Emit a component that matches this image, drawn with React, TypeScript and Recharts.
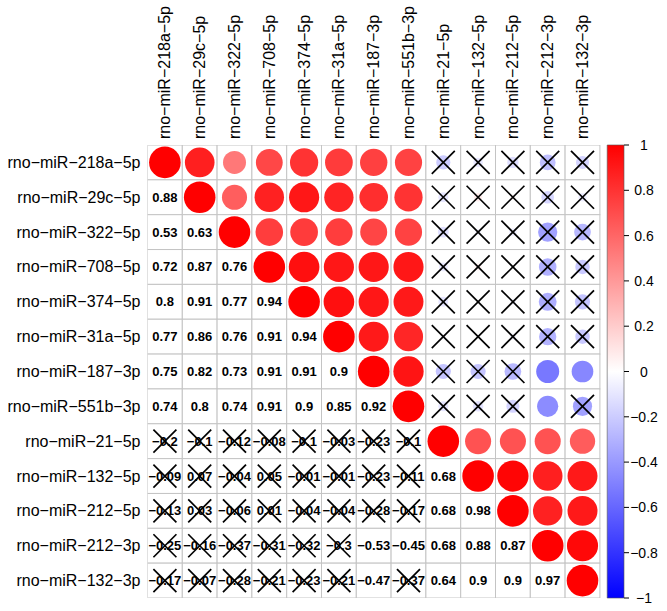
import React from 'react'
import {
  ScatterChart,
  Scatter,
  XAxis,
  YAxis,
  ReferenceArea,
} from 'recharts'

// miRNA names (same order for rows and columns)
const mirnas = [
  'rno-miR-218a-5p',
  'rno-miR-29c-5p',
  'rno-miR-322-5p',
  'rno-miR-708-5p',
  'rno-miR-374-5p',
  'rno-miR-31a-5p',
  'rno-miR-187-3p',
  'rno-miR-551b-3p',
  'rno-miR-21-5p',
  'rno-miR-132-5p',
  'rno-miR-212-5p',
  'rno-miR-212-3p',
  'rno-miR-132-3p',
]

// lower triangle of the correlation matrix (row i, columns 0..i-1)
const lower: number[][] = [
  [],
  [0.88],
  [0.53, 0.63],
  [0.72, 0.87, 0.76],
  [0.8, 0.91, 0.77, 0.94],
  [0.77, 0.86, 0.76, 0.91, 0.94],
  [0.75, 0.82, 0.73, 0.91, 0.91, 0.9],
  [0.74, 0.8, 0.74, 0.91, 0.9, 0.85, 0.92],
  [-0.2, -0.1, -0.12, -0.08, -0.1, -0.03, -0.23, -0.1],
  [-0.09, 0.07, -0.04, 0.05, -0.01, -0.01, -0.23, -0.11, 0.68],
  [-0.13, 0.03, -0.06, 0.01, -0.04, -0.04, -0.28, -0.17, 0.68, 0.98],
  [-0.25, -0.16, -0.37, -0.31, -0.32, -0.3, -0.53, -0.45, 0.68, 0.88, 0.87],
  [-0.17, -0.07, -0.28, -0.21, -0.23, -0.21, -0.47, -0.37, 0.64, 0.9, 0.9, 0.97],
]

// 1 = not significant (crossed out)
const insig: number[][] = [
  [],
  [0],
  [0, 0],
  [0, 0, 0],
  [0, 0, 0, 0],
  [0, 0, 0, 0, 0],
  [0, 0, 0, 0, 0, 0],
  [0, 0, 0, 0, 0, 0, 0],
  [1, 1, 1, 1, 1, 1, 1, 1],
  [1, 1, 1, 1, 1, 1, 1, 1, 0],
  [1, 1, 1, 1, 1, 1, 1, 1, 0, 0],
  [1, 1, 1, 1, 1, 1, 0, 0, 0, 0, 0],
  [1, 1, 1, 1, 1, 1, 0, 1, 0, 0, 0, 0],
]

const legendTicks = [-1, -0.8, -0.6, -0.4, -0.2, 0, 0.2, 0.4, 0.6, 0.8, 1]

const N = mirnas.length
const W = 651
const H = 611
const TOP = 145
const LEFT = 139.5
const RIGHT = 35
const BOTTOM = 13
const PLOT_W = W - LEFT - RIGHT
const PLOT_H = H - TOP - BOTTOM
const CELL_W = 34.8
const CELL_H = PLOT_H / N
const X_MAX = 0.5 + PLOT_W / CELL_W
const CB_X1 = N + 0.5 + 7.3 / CELL_W
const MAX_R = 15.8
const FONT = '"Liberation Sans", Arial, sans-serif'

const minus = (s: string) => s.replace(/-/g, '\u2212')

const cells: any[] = []
for (let i = 0; i < N; i++) {
  for (let j = 0; j < N; j++) {
    const r = i === j ? 1 : j < i ? lower[i][j] : lower[j][i]
    const ns = i === j ? 0 : j < i ? insig[i][j] : insig[j][i]
    cells.push({ x: j + 1, y: i + 1, r, ns, part: j < i ? 'lower' : j === i ? 'diag' : 'upper' })
  }
}

function colorFor(r: number) {
  if (r >= 0) {
    const v = Math.round(255 * (1 - r))
    return `rgb(255,${v},${v})`
  }
  const v = Math.round(255 * (1 + r))
  return `rgb(${v},${v},255)`
}

function Cross({ cx, cy }: { cx: number; cy: number }) {
  const d = 11.5
  return (
    <g stroke="#000" strokeWidth={1.7}>
      <line x1={cx - d} y1={cy - d} x2={cx + d} y2={cy + d} />
      <line x1={cx - d} y1={cy + d} x2={cx + d} y2={cy - d} />
    </g>
  )
}

function CellShape(props: any) {
  const { cx, cy, payload } = props
  const { r, ns, part } = payload
  return (
    <g>
      <rect
        x={cx - CELL_W / 2}
        y={cy - CELL_H / 2}
        width={CELL_W}
        height={CELL_H}
        fill="#fff"
        stroke="#c4c4c4"
        strokeWidth={1}
      />
      {part === 'lower' ? (
        <text
          x={cx}
          y={cy}
          textAnchor="middle"
          dominantBaseline="central"
          fontFamily={FONT}
          fontSize={13}
          fontWeight="bold"
          fill="#000"
        >
          {minus(String(r))}
        </text>
      ) : (
        <circle cx={cx} cy={cy} r={Math.sqrt(Math.abs(r)) * MAX_R} fill={colorFor(r)} />
      )}
      {ns ? <Cross cx={cx} cy={cy} /> : null}
    </g>
  )
}

function ColTick(props: any) {
  const { x, index } = props
  const y = TOP - 6
  return (
    <text
      x={x}
      y={y}
      transform={`rotate(-90, ${x}, ${y})`}
      textAnchor="start"
      dominantBaseline="central"
      fontFamily={FONT}
      fontSize={16}
      fill="#000"
    >
      {minus(mirnas[index])}
    </text>
  )
}

function RowTick(props: any) {
  const { y, index } = props
  return (
    <text
      x={LEFT - 7}
      y={y}
      textAnchor="end"
      dominantBaseline="central"
      fontFamily={FONT}
      fontSize={16}
      fill="#000"
    >
      {minus(mirnas[index])}
    </text>
  )
}

function LegendTick(props: any) {
  const { y, payload } = props
  return (
    <text
      x={LEFT + PLOT_W + 20}
      y={y}
      textAnchor="middle"
      dominantBaseline="central"
      fontFamily={FONT}
      fontSize={14}
      fill="#000"
    >
      {minus(String(payload.value))}
    </text>
  )
}

export default function App() {
  return (
    <div style={{ position: 'absolute', left: 8, top: 0, width: W, height: H, fontFamily: FONT }}>
      <ScatterChart width={W} height={H} margin={{ top: 0, right: 0, bottom: BOTTOM, left: 0 }}>
        <defs>
          <linearGradient id="cbGrad" x1="0" y1="0" x2="0" y2="1">
            <stop offset="0%" stopColor="#ff0000" />
            <stop offset="50%" stopColor="#ffffff" />
            <stop offset="100%" stopColor="#0000ff" />
          </linearGradient>
        </defs>
        <XAxis
          type="number"
          dataKey="x"
          orientation="top"
          domain={[0.5, X_MAX]}
          ticks={mirnas.map((_, i) => i + 1)}
          interval={0}
          height={TOP}
          axisLine={false}
          tickLine={false}
          tick={<ColTick />}
          allowDataOverflow
        />
        <YAxis
          yAxisId="m"
          type="number"
          dataKey="y"
          domain={[0.5, N + 0.5]}
          reversed
          ticks={mirnas.map((_, i) => i + 1)}
          interval={0}
          width={LEFT}
          axisLine={false}
          tickLine={false}
          tick={<RowTick />}
          allowDataOverflow
        />
        <YAxis
          yAxisId="cb"
          orientation="right"
          type="number"
          domain={[-1, 1]}
          ticks={legendTicks}
          interval={0}
          width={RIGHT}
          axisLine={false}
          tickLine={{ stroke: '#000' }}
          tickSize={5}
          tick={<LegendTick />}
          allowDataOverflow
        />
        <ReferenceArea
          yAxisId="cb"
          x1={CB_X1}
          x2={X_MAX}
          y1={-1}
          y2={1}
          fill="url(#cbGrad)"
          fillOpacity={1}
          stroke="#555"
          strokeWidth={0.6}
          ifOverflow="visible"
        />
        <Scatter yAxisId="m" data={cells} shape={CellShape} isAnimationActive={false} />
      </ScatterChart>
    </div>
  )
}
